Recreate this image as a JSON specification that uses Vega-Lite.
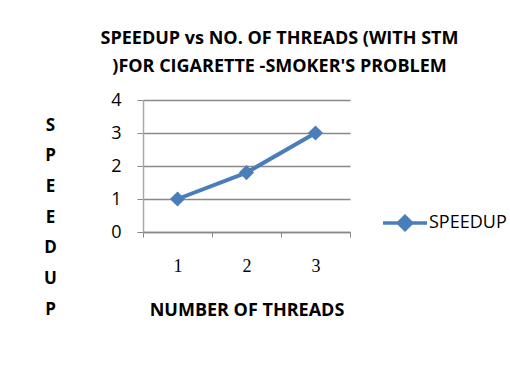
{
  "$schema": "https://vega.github.io/schema/vega-lite/v6.json",
  "width": 207,
  "height": 132,
  "autosize": {"type": "none"},
  "padding": {"left": 143, "top": 100, "right": 160, "bottom": 137},
  "background": "white",
  "title": {
    "text": ["SPEEDUP vs NO. OF THREADS (WITH STM", ")FOR CIGARETTE -SMOKER'S PROBLEM"],
    "font": "Open Sans",
    "fontSize": 18,
    "fontWeight": "bold",
    "color": "#000000",
    "anchor": "middle",
    "frame": "group",
    "dx": 33,
    "lineHeight": 28,
    "offset": 15
  },
  "data": {
    "values": [
      {"threads": "1", "speedup": 1.0, "series": "SPEEDUP"},
      {"threads": "2", "speedup": 1.8, "series": "SPEEDUP"},
      {"threads": "3", "speedup": 3.0, "series": "SPEEDUP"}
    ]
  },
  "mark": {
    "type": "line",
    "strokeWidth": 4,
    "point": {"shape": "diamond", "size": 230, "filled": true, "opacity": 1}
  },
  "encoding": {
    "x": {
      "field": "threads",
      "type": "ordinal",
      "scale": {"paddingInner": 0, "paddingOuter": 0},
      "axis": {
        "title": "NUMBER OF THREADS",
        "titleFont": "Open Sans",
        "titleFontSize": 18,
        "titleFontWeight": "bold",
        "titleColor": "#000000",
        "titlePadding": 26,
        "labelAngle": 0,
        "labelFont": "Liberation Serif",
        "labelFontSize": 18,
        "labelColor": "#000000",
        "labelPadding": 20,
        "tickBand": "extent",
        "tickSize": 5,
        "tickColor": "#888888",
        "domainColor": "#888888",
        "domainWidth": 1.5
      }
    },
    "y": {
      "field": "speedup",
      "type": "quantitative",
      "scale": {"domain": [0, 4], "nice": false},
      "axis": {
        "values": [0, 1, 2, 3, 4],
        "title": ["S", "P", "E", "E", "D", "U", "P"],
        "titleAngle": 0,
        "titleAlign": "center",
        "titleBaseline": "alphabetic",
        "titleX": -93,
        "titleY": 30,
        "titleLineHeight": 30.7,
        "titleFont": "Open Sans",
        "titleFontSize": 17,
        "titleFontWeight": "bold",
        "titleColor": "#000000",
        "labelFont": "Open Sans",
        "labelFontSize": 18,
        "labelColor": "#000000",
        "labelPadding": 16,
        "tickSize": 6,
        "tickColor": "#888888",
        "domainColor": "#aaaaaa",
        "domainWidth": 1.5,
        "grid": true,
        "gridColor": "#888888",
        "gridWidth": 1.5
      }
    },
    "color": {
      "field": "series",
      "type": "nominal",
      "scale": {"range": ["#4a7ebb"]},
      "legend": {
        "title": null,
        "orient": "none",
        "legendX": 238,
        "legendY": 99,
        "padding": 0,
        "symbolType": "M-1,0H1M0,-0.3L0.3,0L0,0.3L-0.3,0Z",
        "symbolSize": 1936,
        "symbolStrokeWidth": 3.5,
        "symbolFillColor": "#4a7ebb",
        "symbolStrokeColor": "#4a7ebb",
        "labelFont": "Open Sans",
        "labelFontSize": 18,
        "labelColor": "#000000",
        "labelOffset": 0
      }
    }
  },
  "config": {"view": {"stroke": null}}
}
